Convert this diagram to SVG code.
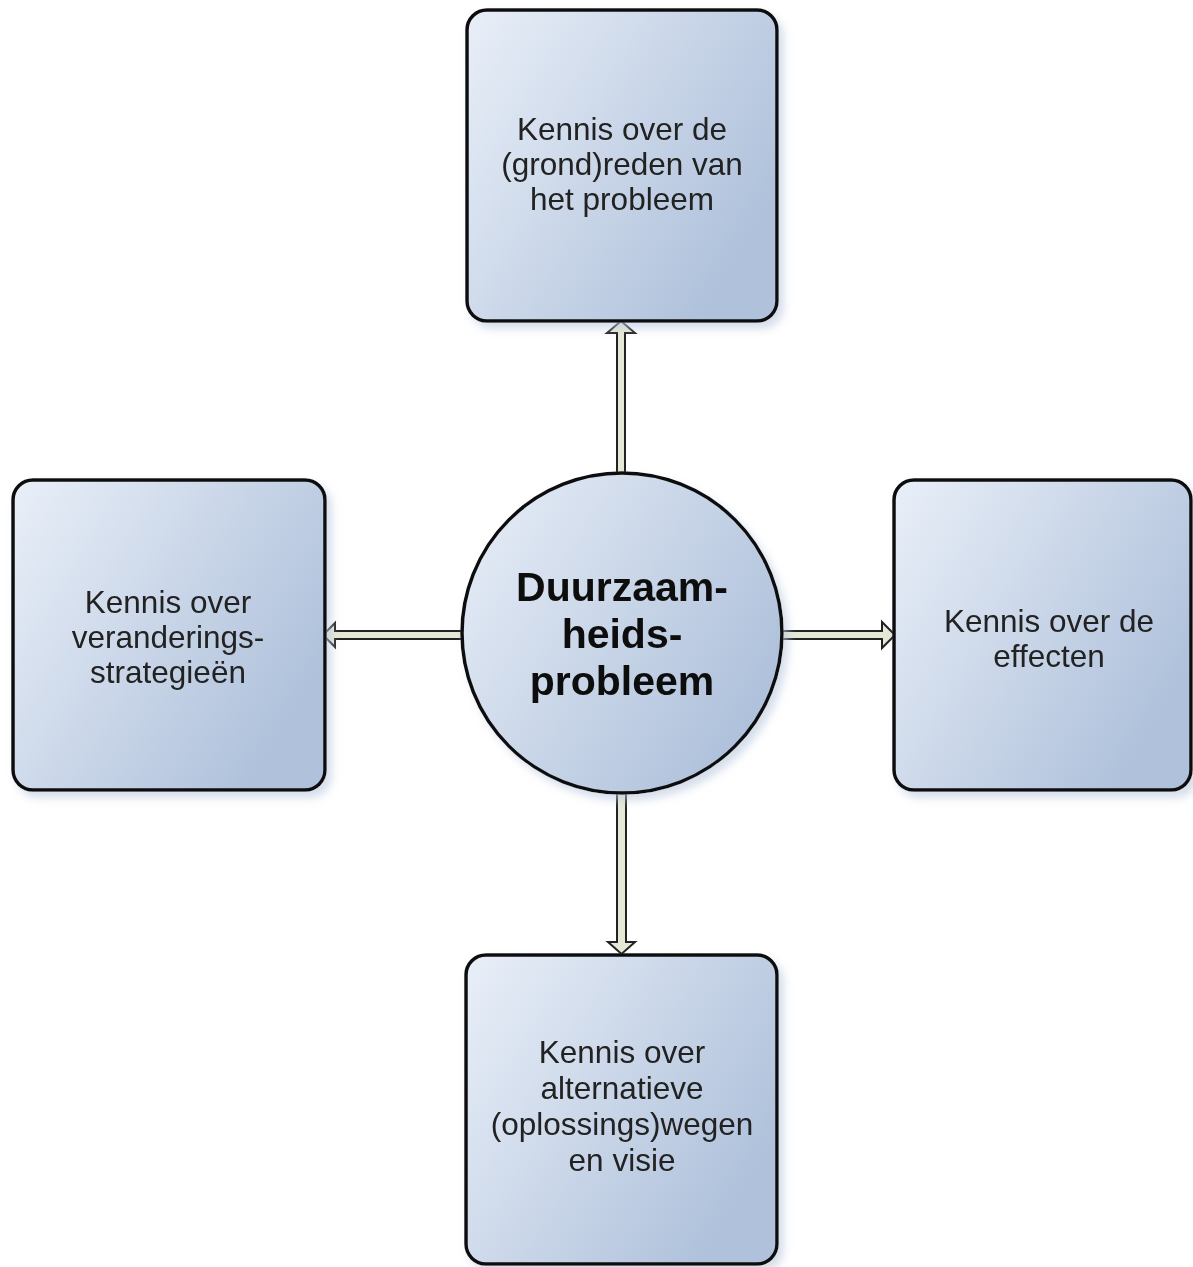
<svg xmlns="http://www.w3.org/2000/svg" width="1193" height="1267" viewBox="0 0 1193 1267">
<style>
.node{stroke:#111;stroke-width:3.5;fill:url(#g)}
.lbl{font-family:"Liberation Sans",Arial,sans-serif;font-size:31.5px;fill:#222;text-anchor:middle}
.big{font-family:"Liberation Sans",Arial,sans-serif;font-size:41px;font-weight:bold;fill:#111;text-anchor:middle}
.arr{fill:#e6e8d6;stroke:#222;stroke-width:2;stroke-linejoin:miter}
</style>
<defs>
<linearGradient id="g" x1="0" y1="0" x2="1" y2="0.6">
<stop offset="0" stop-color="#e9eff8"/>
<stop offset="1" stop-color="#afc1db"/>
</linearGradient>
<filter id="sh" x="-10%" y="-10%" width="130%" height="130%">
<feOffset dx="5" dy="6" in="SourceAlpha" result="o"/>
<feGaussianBlur in="o" stdDeviation="4" result="b"/>
<feFlood flood-color="#b9c8de" flood-opacity="0.6"/>
<feComposite operator="in" in2="b"/>
<feMerge><feMergeNode/><feMergeNode in="SourceGraphic"/></feMerge>
</filter>
</defs>
<rect width="1193" height="1267" fill="#fff"/>
<g id="connectors">
<polygon class="arr" points="617,474 617,333 607,333 621,321 635,333 625,333 625,474"/>
<polygon class="arr" points="617,793 617,942 608,942 621.5,954 635,942 626,942 626,793"/>
<polygon class="arr" points="463,631 335,631 335,623 323,635 335,647 335,639 463,639"/>
<polygon class="arr" points="781,631 882,631 882,622 895,635 882,648 882,639 781,639"/>
</g>
<g id="center" filter="url(#sh)">
<circle class="node" cx="622" cy="633" r="160"/>
<text class="big" x="622" y="601">Duurzaam-</text>
<text class="big" x="622" y="648">heids-</text>
<text class="big" x="622" y="695">probleem</text>
</g>
<g id="top" filter="url(#sh)">
<rect class="node" x="467" y="10" width="310" height="311" rx="20"/>
<text class="lbl" x="622" y="140">Kennis over de</text>
<text class="lbl" x="622" y="175">(grond)reden van</text>
<text class="lbl" x="622" y="210">het probleem</text>
</g>
<g id="left" filter="url(#sh)">
<rect class="node" x="13" y="480" width="312" height="310" rx="20"/>
<text class="lbl" x="168" y="613">Kennis over</text>
<text class="lbl" x="168" y="648">veranderings-</text>
<text class="lbl" x="168" y="683">strategieën</text>
</g>
<g id="right" filter="url(#sh)">
<rect class="node" x="894" y="480" width="297" height="310" rx="20"/>
<text class="lbl" x="1049" y="632">Kennis over de</text>
<text class="lbl" x="1049" y="667">effecten</text>
</g>
<g id="bottom" filter="url(#sh)">
<rect class="node" x="466" y="955" width="311" height="309" rx="20"/>
<text class="lbl" x="622" y="1063">Kennis over</text>
<text class="lbl" x="622" y="1099">alternatieve</text>
<text class="lbl" x="622" y="1135">(oplossings)wegen</text>
<text class="lbl" x="622" y="1171">en visie</text>
</g>
</svg>
